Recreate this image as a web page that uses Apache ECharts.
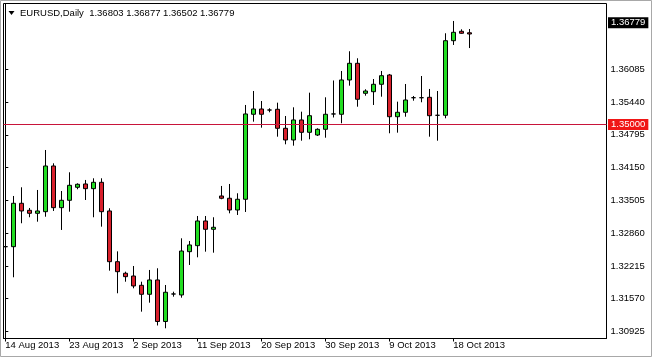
<!DOCTYPE html>
<html>
<head>
<meta charset="utf-8">
<script src="https://cdn.jsdelivr.net/npm/echarts@6/dist/echarts.min.js"></script>
<style>
html, body { margin: 0; padding: 0; background: #fff; }
#chart { width: 652px; height: 357px; }
</style>
</head>
<body>
<div id="chart"></div>
<script>
// EURUSD daily bars, one per trading day (incl. the short Sunday bars)
var dates = ['14 Aug 2013', '15 Aug 2013', '16 Aug 2013', '18 Aug 2013', '19 Aug 2013', '20 Aug 2013', '21 Aug 2013', '22 Aug 2013',
    '23 Aug 2013', '25 Aug 2013', '26 Aug 2013', '27 Aug 2013', '28 Aug 2013', '29 Aug 2013', '30 Aug 2013', '1 Sep 2013',
    '2 Sep 2013', '3 Sep 2013', '4 Sep 2013', '5 Sep 2013', '6 Sep 2013', '8 Sep 2013', '9 Sep 2013', '10 Sep 2013',
    '11 Sep 2013', '12 Sep 2013', '13 Sep 2013', '15 Sep 2013', '16 Sep 2013', '17 Sep 2013', '18 Sep 2013', '19 Sep 2013',
    '20 Sep 2013', '22 Sep 2013', '23 Sep 2013', '24 Sep 2013', '25 Sep 2013', '26 Sep 2013', '27 Sep 2013', '29 Sep 2013',
    '30 Sep 2013', '1 Oct 2013', '2 Oct 2013', '3 Oct 2013', '4 Oct 2013', '6 Oct 2013', '7 Oct 2013', '8 Oct 2013',
    '9 Oct 2013', '10 Oct 2013', '11 Oct 2013', '13 Oct 2013', '14 Oct 2013', '15 Oct 2013', '16 Oct 2013', '17 Oct 2013',
    '18 Oct 2013', '20 Oct 2013', '21 Oct 2013'];

var opens = [1.32593, 1.32593, 1.33447, 1.33309, 1.33250, 1.33282, 1.34181, 1.33361,
    1.33506, 1.33762, 1.33827, 1.33735, 1.33860, 1.33296, 1.32298, 1.32070,
    1.32016, 1.31833, 1.31656, 1.31938, 1.31121, 1.31662, 1.31643, 1.32495,
    1.32613, 1.33099, 1.32935, 1.33591, 1.33546, 1.33315, 1.33526, 1.35199,
    1.35303, 1.35283, 1.35297, 1.34923, 1.34693, 1.35087, 1.34844, 1.34791,
    1.34903, 1.35205, 1.35199, 1.35874, 1.36202, 1.35612, 1.35643, 1.35789,
    1.35972, 1.35151, 1.35238, 1.35525, 1.35525, 1.35533, 1.35179, 1.35179,
    1.36647, 1.36832, 1.36803];
var closes = [1.32593, 1.33447, 1.33296, 1.33250, 1.33296, 1.34181, 1.33361, 1.33506,
    1.33801, 1.33821, 1.33735, 1.33860, 1.33282, 1.32298, 1.32101, 1.32003,
    1.31820, 1.31656, 1.31938, 1.31121, 1.31696, 1.31662, 1.32508, 1.32627,
    1.33099, 1.32935, 1.32975, 1.33546, 1.33315, 1.33526, 1.35205, 1.35303,
    1.35199, 1.35283, 1.34923, 1.34693, 1.35087, 1.34844, 1.35171, 1.34903,
    1.35199, 1.35205, 1.35874, 1.36202, 1.35494, 1.35657, 1.35789, 1.35958,
    1.35151, 1.35238, 1.35480, 1.35525, 1.35525, 1.35171, 1.35179, 1.36647,
    1.36812, 1.36793, 1.36779];
var lows = [1.32331, 1.31991, 1.33054, 1.33172, 1.33085, 1.33183, 1.33296, 1.32922,
    1.33282, 1.33723, 1.33512, 1.33172, 1.32987, 1.32121, 1.31676, 1.31904,
    1.31774, 1.31314, 1.31491, 1.31042, 1.30987, 1.31609, 1.31589, 1.32233,
    1.32384, 1.32495, 1.32475, 1.33526, 1.33250, 1.33217, 1.33276, 1.35053,
    1.34935, 1.35238, 1.34758, 1.34608, 1.34581, 1.34679, 1.34707, 1.34772,
    1.34738, 1.35136, 1.35022, 1.35762, 1.35348, 1.35565, 1.35382, 1.35545,
    1.34825, 1.34837, 1.35151, 1.35466, 1.35435, 1.34758, 1.34679, 1.35120,
    1.36563, 1.36783, 1.36502];
var highs = [1.32764, 1.33591, 1.33762, 1.33355, 1.33709, 1.34496, 1.34234, 1.33689,
    1.34057, 1.33840, 1.33906, 1.33939, 1.33939, 1.33349, 1.32501, 1.32101,
    1.32213, 1.31904, 1.32135, 1.32168, 1.31839, 1.31707, 1.32758, 1.32705,
    1.33197, 1.33197, 1.33172, 1.33788, 1.33827, 1.33644, 1.35382, 1.35657,
    1.35460, 1.35317, 1.35427, 1.35165, 1.35336, 1.35250, 1.35624, 1.34923,
    1.35533, 1.35864, 1.36051, 1.36439, 1.36301, 1.35691, 1.35893, 1.36051,
    1.35992, 1.35447, 1.35795, 1.35559, 1.35952, 1.35697, 1.35657, 1.36793,
    1.37035, 1.36871, 1.36877];

var priceTicks = [1.36085, 1.35440, 1.34795, 1.34150, 1.33505, 1.32860, 1.32215, 1.31570, 1.30925];
var dateTicks = [0, 8, 16, 24, 32, 40, 48, 56];
var levelPrice = 1.35000;

var last = opens.length - 1;
var lastPrice = closes[last];
var header = 'EURUSD,Daily  ' + [opens[last], highs[last], lows[last], closes[last]]
    .map(function (v) { return v.toFixed(5); }).join(' ');

var bars = [];
for (var i = 0; i < opens.length; i++) {
    bars.push([i, opens[i], closes[i], lows[i], highs[i]]);
}

var font = 'Liberation Sans';
var myChart = echarts.init(document.getElementById('chart'));

option = {
    animation: false,
    backgroundColor: '#ffffff',
    grid: {
        left: 3.5, right: 45.5, top: 3.5, bottom: 18.5,
        show: true, borderColor: '#000', borderWidth: 1, backgroundColor: '#fff'
    },
    xAxis: {
        type: 'value',
        min: -0.225,
        max: 75.15,
        axisLine: { show: true, lineStyle: { color: '#000', width: 1 } },
        axisTick: { show: true, length: 3, customValues: dateTicks, lineStyle: { color: '#000' } },
        axisLabel: {
            customValues: dateTicks,
            formatter: function (v) { return dates[Math.round(v)]; },
            align: 'left',
            margin: 2,
            color: '#000',
            fontFamily: font,
            fontSize: 9.5
        },
        splitLine: { show: false }
    },
    yAxis: {
        type: 'value',
        position: 'right',
        min: 1.30786,
        max: 1.37379,
        axisLine: { show: true, lineStyle: { color: '#000', width: 1 } },
        axisTick: { show: true, length: 3, customValues: priceTicks, lineStyle: { color: '#000' } },
        axisLabel: {
            customValues: priceTicks,
            formatter: function (v) { return v.toFixed(5); },
            margin: 4,
            padding: [3, 0, 0, 0],
            color: '#000',
            fontFamily: font,
            fontSize: 9.5
        },
        splitLine: { show: false }
    },
    series: [
        {
            type: 'candlestick',
            data: bars,
            encode: { x: 0, y: [1, 2, 3, 4] },
            barWidth: 5,
            clip: true,
            itemStyle: {
                color: '#22dd22',
                color0: '#d8202c',
                borderColor: '#000',
                borderColor0: '#000',
                borderWidth: 1
            },
            markLine: {
                silent: true,
                symbol: 'none',
                animation: false,
                data: [
                    {
                        yAxis: levelPrice,
                        lineStyle: { color: '#c8143a', width: 1, type: 'solid' },
                        label: {
                            show: true, position: 'end', distance: 1.5,
                            formatter: levelPrice.toFixed(5),
                            backgroundColor: '#f01616', color: '#fff',
                            padding: [1, 3, 0, 3],
                            fontFamily: font, fontSize: 9.5
                        }
                    },
                    {
                        yAxis: lastPrice,
                        lineStyle: { color: 'rgba(0,0,0,0)', width: 1 },
                        label: {
                            show: true, position: 'end', distance: 1.5,
                            formatter: lastPrice.toFixed(5),
                            backgroundColor: '#000', color: '#fff',
                            padding: [1, 3, 0, 3],
                            fontFamily: font, fontSize: 9.5
                        }
                    }
                ]
            }
        }
    ],
    graphic: [
        {
            type: 'rect',
            shape: { x: 0.5, y: 0.5, width: 651, height: 356 },
            style: { fill: null, stroke: '#a8a8a8', lineWidth: 1 },
            silent: true
        },
        {
            type: 'polygon',
            shape: { points: [[8.5, 11], [14.5, 11], [11.5, 15]] },
            style: { fill: '#000' },
            silent: true
        },
        {
            type: 'text',
            x: 20, y: 13.5,
            style: {
                text: header,
                fill: '#000',
                font: '9.5px "Liberation Sans"',
                verticalAlign: 'middle'
            },
            silent: true
        }
    ]
};

myChart.setOption(option);
</script>
</body>
</html>
